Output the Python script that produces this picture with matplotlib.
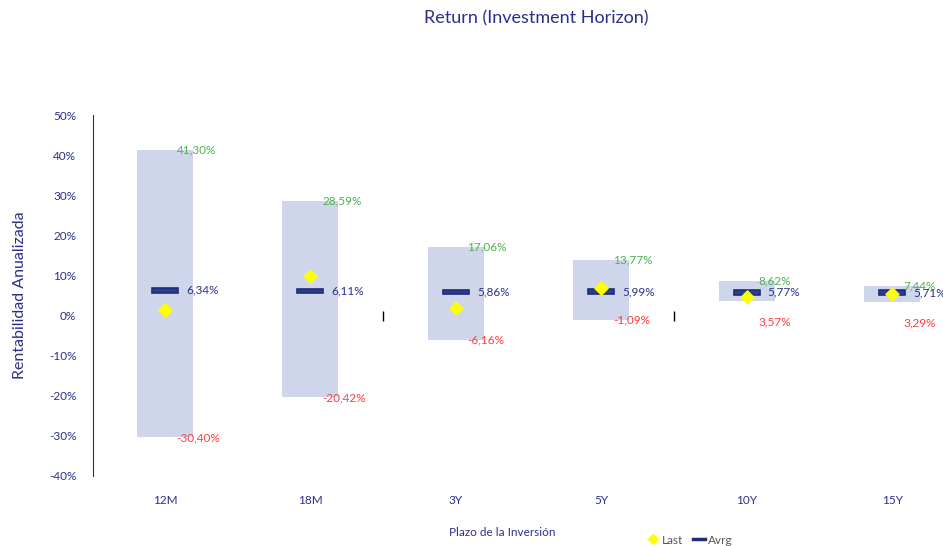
import numpy as np
import matplotlib.pyplot as plt
from matplotlib.lines import Line2D

# values (percent)
horizons = ["12M", "18M", "3Y", "5Y", "10Y", "15Y"]
max_ret = [41.30, 28.59, 17.06, 13.77, 8.62, 7.44]
min_ret = [-30.40, -20.42, -6.16, -1.09, 3.57, 3.29]
avg_ret = [6.34, 6.11, 5.86, 5.99, 5.77, 5.71]
last_ret = [1.4, 9.9, 1.9, 6.9, 4.6, 5.4]
stray_marks = [1.5, 3.5]  # small black ticks seen on the zero line

navy = "#2b2f8c"
dark = "#1f2d78"
green = "#4cb050"
red = "#ff3b3b"


def pct(v):
    return ("%.2f%%" % v).replace(".", ",")


plt.rcParams['font.family'] = ['Lato', 'DejaVu Sans']
fig = plt.figure(figsize=(9.43, 5.46), dpi=100)
ax = fig.add_axes([93 / 943, 1 - 476 / 546, 850 / 943, 361 / 546])

x = np.arange(len(horizons))
heights = np.array(max_ret) - np.array(min_ret)
ax.bar(x, heights, bottom=min_ret, width=0.385, color="#cfd6ec", zorder=1)

# average marker as a small dark bar
ax.bar(x, 1.2, bottom=np.array(avg_ret) - 0.6, width=0.18, color="#2a3d8f",
       edgecolor=dark, linewidth=1.2, zorder=3)
ax.scatter(x, last_ret, marker="D", s=45, color="#ffff00", zorder=4)
ax.scatter(stray_marks, [0, 0], marker="|", s=50, color="black", linewidths=1, zorder=2)

for i in range(len(horizons)):
    # push the min label down when the range is narrow, as the original does
    drop = -15 if heights[i] < 10 else 0
    ax.annotate(pct(max_ret[i]), (x[i] + 0.08, max_ret[i]), color=green, fontsize=8.5,
                va="center", ha="left", zorder=5)
    ax.annotate(pct(min_ret[i]), (x[i] + 0.08, min_ret[i]), xytext=(0, drop),
                textcoords="offset points", color=red, fontsize=8.5,
                va="center", ha="left", zorder=5)
    ax.text(x[i] + 0.145, avg_ret[i], pct(avg_ret[i]), color=navy, fontsize=8.5,
            va="center", ha="left", zorder=5)

ax.set_ylim(-40, 50)
ax.set_yticks(np.arange(-40, 51, 10))
ax.set_yticklabels(["%d%%" % v for v in range(-40, 51, 10)], color=navy, fontsize=8.5)
ax.set_xlim(-0.495, 5.35)
ax.set_xticks(x)
ax.set_xticklabels(horizons, color=navy, fontsize=8.5)
ax.tick_params(axis="x", length=0, pad=14)
ax.tick_params(axis="y", length=0, pad=12)
for side in ["top", "right", "bottom"]:
    ax.spines[side].set_visible(False)
ax.spines["left"].set_color("#333333")

ax.set_ylabel("Rentabilidad Anualizada", color=navy, fontsize=11.5, labelpad=16)
fig.text(502 / 943, 1 - 533 / 546, "Plazo de la Inversión", color=navy,
         fontsize=8.5, ha="center", va="center")
fig.text(536 / 943, 1 - 18 / 546, "Return (Investment Horizon)", color=navy,
         fontsize=13, ha="center", va="center")

handles = [Line2D([], [], marker="D", color="#ffff00", linestyle="none", markersize=5),
           Line2D([], [], color=dark, linewidth=2.5)]
fig.legend(handles, ["Last", "Avrg"], loc="center", bbox_to_anchor=(690 / 943, 1 - 540 / 546),
           ncol=2, frameon=False, fontsize=8.5, handlelength=1.0, handletextpad=0.3,
           columnspacing=0.8, labelcolor="#555555")

fig.savefig("out.png", dpi=100)
